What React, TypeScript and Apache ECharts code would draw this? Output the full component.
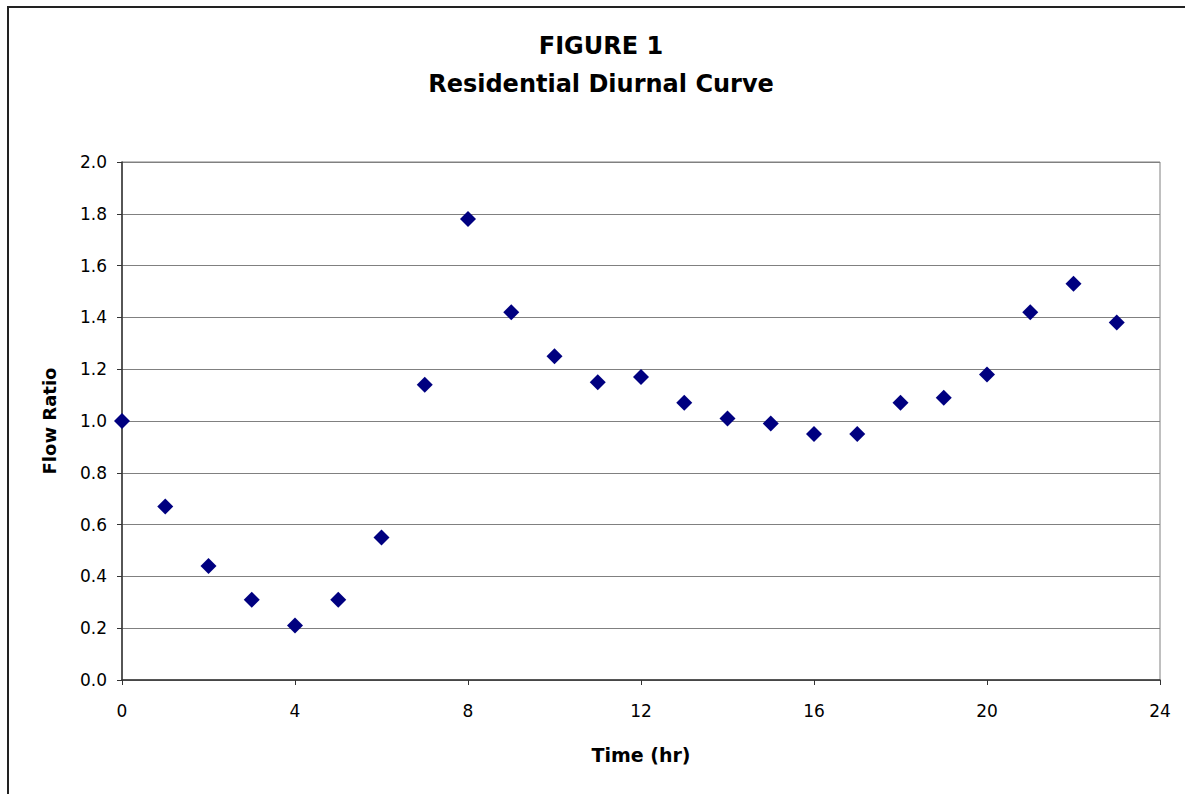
import React, { useEffect, useRef } from "react";
import * as echarts from "echarts";

const hours = [0, 1, 2, 3, 4, 5, 6, 7, 8, 9, 10, 11, 12, 13, 14, 15, 16, 17, 18, 19, 20, 21, 22, 23];
const flowRatio = [1.0, 0.67, 0.44, 0.31, 0.21, 0.31, 0.55, 1.14, 1.78, 1.42, 1.25, 1.15, 1.17, 1.07, 1.01, 0.99, 0.95, 0.95, 1.07, 1.09, 1.18, 1.42, 1.53, 1.38];
const titleLines = ["FIGURE 1", "Residential Diurnal Curve"];
const xName = "Time (hr)";
const yName = "Flow Ratio";

const FONT = "'DejaVu Sans', 'Liberation Sans', Arial, sans-serif";

export default function App() {
  const ref = useRef<HTMLDivElement>(null);
  useEffect(() => {
    document.body.style.margin = "0";
    const chart = echarts.init(ref.current!, null, { renderer: "svg" });
    chart.setOption({
      animation: false,
      backgroundColor: "#ffffff",
      textStyle: { fontFamily: FONT },
      graphic: [
        {
          type: "rect",
          shape: { x: 8, y: 7, width: 1300, height: 900 },
          style: { fill: "none", stroke: "#222", lineWidth: 2 },
          silent: true,
          z: -10,
        },
        {
          type: "text",
          x: 601,
          y: 46,
          style: { text: titleLines[0], font: `bold 24px ${FONT}`, fill: "#000", align: "center", verticalAlign: "middle" },
        },
        {
          type: "text",
          x: 601,
          y: 84,
          style: { text: titleLines[1], font: `bold 24px ${FONT}`, fill: "#000", align: "center", verticalAlign: "middle" },
        },
      ],
      grid: {
        left: 122,
        top: 162,
        right: 25,
        bottom: 114,
        show: true,
        borderColor: "#808080",
        borderWidth: 1,
        backgroundColor: "transparent",
      },
      xAxis: {
        type: "value",
        min: 0,
        max: 24,
        interval: 4,
        name: xName,
        nameLocation: "middle",
        nameGap: 65,
        nameTextStyle: { fontFamily: FONT, fontSize: 19, fontWeight: "bold", color: "#000" },
        axisLine: { show: true, onZero: false, lineStyle: { color: "#333", width: 1.5 } },
        axisTick: { show: true, length: 5, lineStyle: { color: "#333" } },
        axisLabel: { fontFamily: FONT, fontSize: 17, color: "#000", margin: 22 },
        splitLine: { show: false },
      },
      yAxis: {
        type: "value",
        min: 0,
        max: 2,
        interval: 0.2,
        name: yName,
        nameLocation: "middle",
        nameGap: 64,
        nameRotate: 90,
        nameTextStyle: { fontFamily: FONT, fontSize: 18, fontWeight: "bold", color: "#000" },
        axisLine: { show: true, onZero: false, lineStyle: { color: "#333", width: 1.5 } },
        axisTick: { show: true, length: 5, lineStyle: { color: "#333" } },
        axisLabel: { fontFamily: FONT, fontSize: 17, color: "#000", margin: 15, formatter: (v: number) => v.toFixed(1) },
        splitLine: { show: true, lineStyle: { color: "#808080", width: 1 } },
      },
      series: [
        {
          type: "scatter",
          symbol: "diamond",
          symbolSize: [16, 16],
          itemStyle: { color: "#000080", opacity: 1 },
          data: hours.map((h, i) => [h, flowRatio[i]]),
          clip: false,
        },
      ],
    });
    return () => chart.dispose();
  }, []);
  return <div ref={ref} style={{ width: 1185, height: 794 }} />;
}
